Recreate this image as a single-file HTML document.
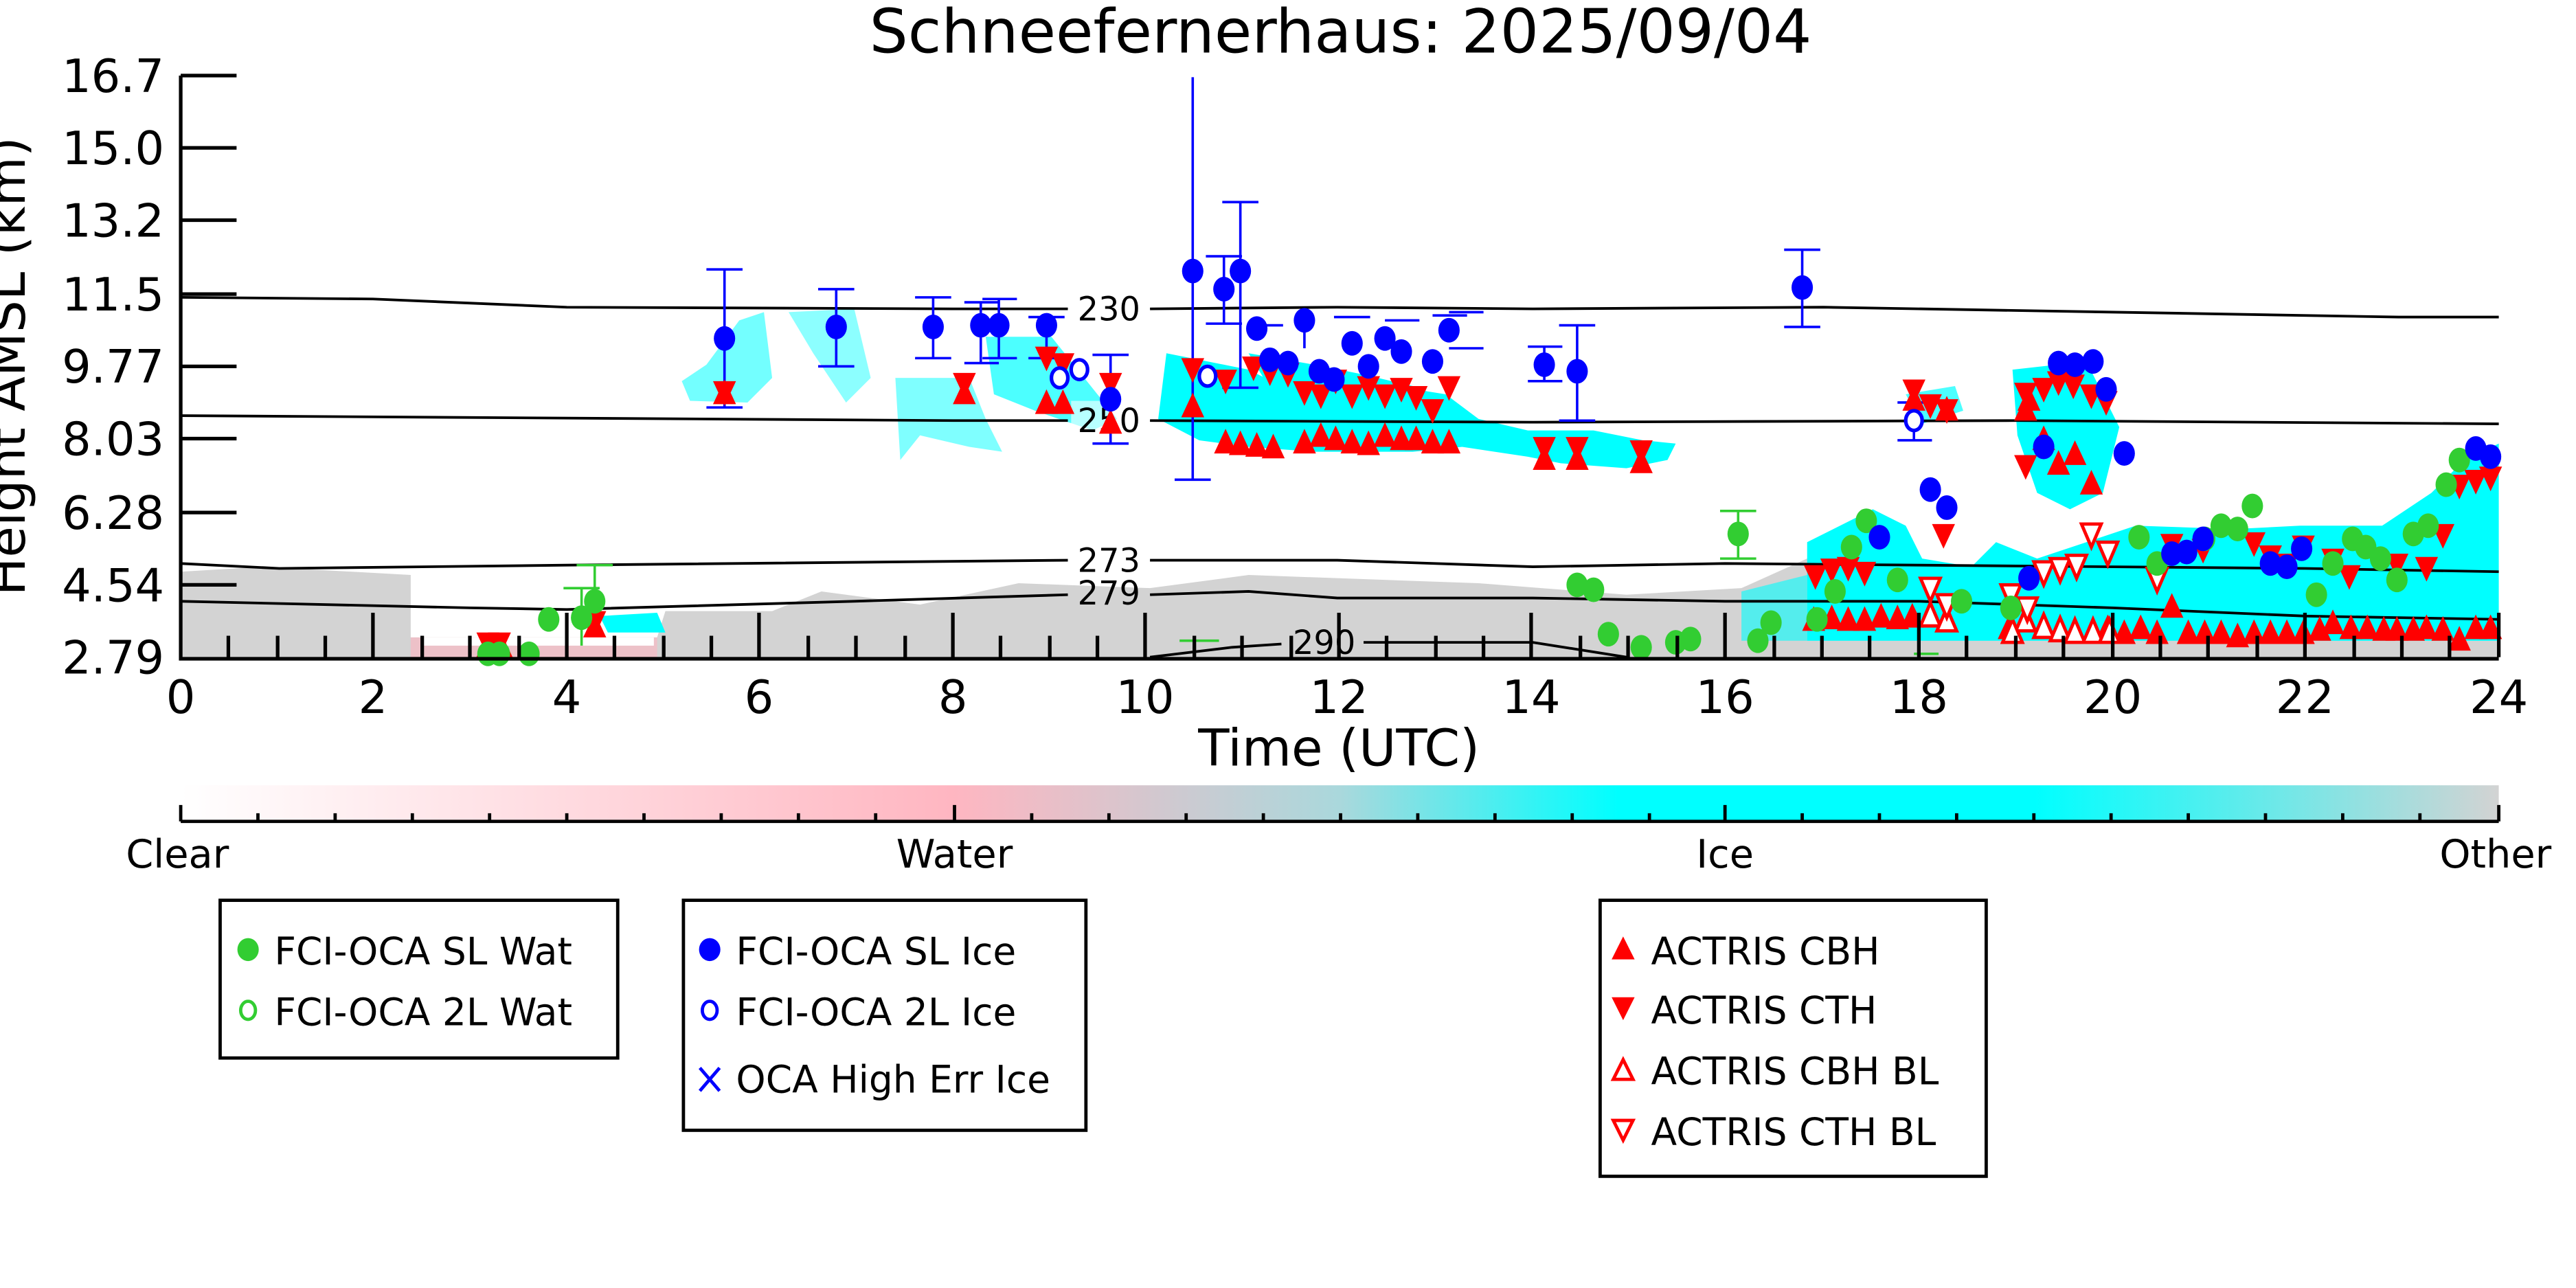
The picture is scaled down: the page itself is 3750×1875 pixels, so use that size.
<!DOCTYPE html>
<html><head><meta charset="utf-8"><style>
html,body{margin:0;padding:0;background:#fff;}
svg{display:block;}
text{font-family:"DejaVu Sans","Liberation Sans",sans-serif;}
</style></head><body>
<svg width="3750" height="1875" viewBox="0 0 1568 784" xmlns="http://www.w3.org/2000/svg">
<defs>
<linearGradient id="cb" x1="0" x2="1" y1="0" y2="0">
<stop offset="0" stop-color="#ffffff"/>
<stop offset="0.333" stop-color="#ffb6c1"/>
<stop offset="0.5" stop-color="#aad8dc"/>
<stop offset="0.62" stop-color="#00ffff"/>
<stop offset="0.8" stop-color="#00ffff"/>
<stop offset="1" stop-color="#d3d3d3"/>
</linearGradient>
<g id="bd"><ellipse cx="0" cy="0" rx="6.5" ry="7.5" fill="#0000ff"/></g>
<g id="bo"><ellipse cx="0" cy="0" rx="5" ry="6" fill="#fff" stroke="#0000ff" stroke-width="2.2"/></g>
<g id="gd"><ellipse cx="0" cy="0" rx="6.5" ry="7.5" fill="#32cd32"/></g>
<g id="tu"><path d="M0,-9 L7,6 L-7,6 Z" fill="#ff0000"/></g>
<g id="td"><path d="M0,9 L7,-6 L-7,-6 Z" fill="#ff0000"/></g>
<g id="ou"><path d="M0,-8 L6,6 L-6,6 Z" fill="#fff" stroke="#ff0000" stroke-width="2"/></g>
<g id="od"><path d="M0,8 L6,-6 L-6,-6 Z" fill="#fff" stroke="#ff0000" stroke-width="2"/></g>
</defs>

<text x="816" y="32" font-size="37" text-anchor="middle">Schneefernerhaus: 2025/09/04</text>

<!-- gray background -->
<path d="M110,348 L160,345 L250,350 L250,388 L400,388 L405,372 L470,372 L500,360 L560,368 L620,355 L700,358 L760,350 L900,355 L990,362 L1060,358 L1100,340 L1220,350 L1300,365 L1400,372 L1521,375 L1521,400 L110,400 Z" fill="#d3d3d3"/>
<path d="M250,388 L400,388 L400,400 L250,400 Z" fill="#ffb6c1" opacity="0.6"/>
<rect x="258" y="388" width="140" height="5" fill="#fff"/>

<!-- cyan -->
<g fill="#00ffff">
<path d="M415,232 L430,222 L450,195 L465,190 L470,230 L455,245 L420,244 Z" opacity="0.55"/>
<path d="M480,190 L520,188 L530,230 L515,245 L495,215 Z" opacity="0.45"/>
<path d="M545,230 L590,230 L600,255 L610,275 L590,272 L560,265 L548,280 Z" opacity="0.5"/>
<path d="M600,205 L640,205 L660,230 L680,255 L665,262 L630,250 L605,240 Z" opacity="0.7"/>
<path d="M710,215 L760,225 L780,235 L830,232 L880,240 L900,255 L930,262 L970,262 L1000,268 L1020,270 L1015,280 L990,285 L950,282 L930,278 L890,272 L860,275 L800,275 L760,272 L730,268 L705,255 Z"/>
<path d="M760,215 L800,222 L830,228 L860,235 L820,250 L780,248 Z"/>
<path d="M365,375 L400,373 L405,385 L370,385 Z"/>
<path d="M1160,240 L1190,235 L1195,250 L1170,258 Z" opacity="0.7"/>
<path d="M1225,225 L1270,220 L1290,260 L1280,300 L1260,310 L1240,300 L1228,265 Z"/>
<path d="M1100,330 L1140,310 L1160,320 L1170,340 L1200,345 L1215,330 L1240,340 L1300,320 L1360,322 L1400,320 L1450,320 L1480,300 L1500,280 L1521,270 L1521,390 L1100,390 Z"/>
<path d="M1060,360 L1100,350 L1100,390 L1060,390 Z" opacity="0.6"/>
</g>

<!-- isotherms -->
<g fill="none" stroke="#000" stroke-width="1.6">
<path d="M110,181 L227,182 L345,187 L580,188 L650,188"/><path d="M700,188 L814,187 L933,188 L1110,187 L1345,191 L1460,193 L1521,193"/>
<path d="M110,253 L580,256 L650,256"/><path d="M700,256 L933,257 L1227,256 L1521,258"/>
<path d="M110,343 L170,346 L345,344 L650,341"/><path d="M700,341 L814,341 L933,345 L1050,343 L1168,344 L1403,346 L1521,348"/>
<path d="M110,366 L286,370 L345,371 L520,366 L650,362"/><path d="M700,362 L760,360 L814,364 L933,364 L1050,366 L1168,366 L1286,370 L1403,375 L1521,377"/>
<path d="M700,400 L750,394 L780,392"/><path d="M830,391 L933,391 L990,400"/>
</g>
<g font-size="20" text-anchor="middle">
<rect x="652" y="244" width="44" height="22" fill="#fff" opacity="0.6"/>
<text x="675" y="195">230</text><text x="675" y="263">250</text>
<text x="675" y="348">273</text><text x="675" y="368">279</text><text x="806" y="398">290</text>
</g>

<!-- blue error bars -->
<g stroke="#0000ff" stroke-width="1.5" fill="none">
<path d="M441,164V248M430,164H452M430,248H452"/>
<path d="M509,176V223M498,176H520M498,223H520"/>
<path d="M568,181V218M557,181H579M557,218H579"/>
<path d="M597,184V221M587,184H608M587,221H608M608,182V218M598,182H619M598,218H619"/>
<path d="M637,193V218M626,193H648M626,218H648"/>
<path d="M676,216V270M665,216H687M665,270H687"/>
<path d="M726,47V292M715,292H737"/>
<path d="M745,156V197M734,156H756M734,197H756"/>
<path d="M755,123V236M744,123H766M744,236H766"/>
<path d="M940,211V232M930,211H951M930,232H951"/>
<path d="M960,198V256M949,198H971M949,256H971"/>
<path d="M1097,152V199M1086,152H1108M1086,199H1108"/>
<path d="M1165,245V268M1155,245H1176M1155,268H1176"/>
<path d="M794,188V212M843,195H864M872,192H893M882,190H903M882,212H903M812,193H834M760,198H781"/>
</g>
<g fill="none" stroke="#32cd32" stroke-width="1.5">
<path d="M1058,311V340M1047,311H1069M1047,340H1069"/>
<path d="M354,358V393M343,358H365M362,344V380M351,344H373"/>
<path d="M1165,398H1180M718,390H742"/>
</g>

<!-- markers -->
<g>
<use href="#td" x="441" y="238"/><use href="#td" x="587" y="233"/><use href="#td" x="637" y="217"/><use href="#td" x="647" y="221"/><use href="#td" x="676" y="233"/><use href="#td" x="726" y="224"/><use href="#td" x="746" y="231"/><use href="#td" x="763" y="223"/><use href="#td" x="773" y="226"/><use href="#td" x="784" y="227"/><use href="#td" x="794" y="238"/><use href="#td" x="804" y="240"/><use href="#td" x="813" y="231"/><use href="#td" x="823" y="240"/><use href="#td" x="833" y="235"/><use href="#td" x="843" y="240"/><use href="#td" x="853" y="236"/><use href="#td" x="862" y="241"/><use href="#td" x="872" y="249"/><use href="#td" x="882" y="235"/><use href="#td" x="940" y="272"/><use href="#td" x="960" y="272"/><use href="#td" x="999" y="274"/>
<use href="#td" x="297" y="391"/><use href="#td" x="304" y="391"/><use href="#td" x="362" y="378"/>
<use href="#td" x="1165" y="237"/><use href="#td" x="1175" y="246"/><use href="#td" x="1185" y="249"/><use href="#td" x="1233" y="239"/><use href="#td" x="1244" y="236"/><use href="#td" x="1253" y="232"/><use href="#td" x="1262" y="234"/><use href="#td" x="1273" y="240"/><use href="#td" x="1282" y="244"/><use href="#td" x="1233" y="283"/>
<use href="#td" x="1105" y="350"/><use href="#td" x="1115" y="346"/><use href="#td" x="1125" y="345"/><use href="#td" x="1135" y="348"/><use href="#td" x="1183" y="325"/><use href="#td" x="1322" y="331"/><use href="#td" x="1341" y="334"/><use href="#td" x="1372" y="330"/><use href="#td" x="1382" y="338"/><use href="#td" x="1392" y="343"/><use href="#td" x="1402" y="332"/><use href="#td" x="1420" y="340"/><use href="#td" x="1430" y="350"/><use href="#td" x="1459" y="343"/><use href="#td" x="1477" y="345"/><use href="#td" x="1487" y="325"/><use href="#td" x="1497" y="295"/><use href="#td" x="1507" y="292"/><use href="#td" x="1516" y="290"/>

<use href="#tu" x="441" y="240"/><use href="#tu" x="587" y="240"/><use href="#tu" x="637" y="246"/><use href="#tu" x="647" y="246"/><use href="#tu" x="676" y="258"/><use href="#tu" x="726" y="248"/><use href="#tu" x="746" y="270"/><use href="#tu" x="755" y="271"/><use href="#tu" x="765" y="272"/><use href="#tu" x="775" y="273"/><use href="#tu" x="794" y="270"/><use href="#tu" x="804" y="266"/><use href="#tu" x="813" y="268"/><use href="#tu" x="823" y="270"/><use href="#tu" x="833" y="271"/><use href="#tu" x="843" y="266"/><use href="#tu" x="853" y="268"/><use href="#tu" x="862" y="268"/><use href="#tu" x="872" y="270"/><use href="#tu" x="882" y="270"/><use href="#tu" x="940" y="280"/><use href="#tu" x="960" y="280"/><use href="#tu" x="999" y="282"/>
<use href="#tu" x="1165" y="244"/><use href="#tu" x="1185" y="250"/><use href="#tu" x="1233" y="250"/><use href="#tu" x="1244" y="268"/><use href="#tu" x="1253" y="283"/><use href="#tu" x="1263" y="277"/><use href="#tu" x="1273" y="295"/><use href="#tu" x="1235" y="244"/>
<use href="#tu" x="1104" y="378"/><use href="#tu" x="1115" y="377"/><use href="#tu" x="1125" y="378"/><use href="#tu" x="1135" y="378"/><use href="#tu" x="1145" y="376"/><use href="#tu" x="1155" y="377"/><use href="#tu" x="1164" y="376"/><use href="#tu" x="1223" y="383"/><use href="#tu" x="1303" y="383"/><use href="#tu" x="1322" y="370"/><use href="#tu" x="1342" y="386"/><use href="#tu" x="1352" y="386"/><use href="#tu" x="1362" y="388"/><use href="#tu" x="1372" y="386"/><use href="#tu" x="1382" y="386"/><use href="#tu" x="1392" y="386"/><use href="#tu" x="1402" y="386"/><use href="#tu" x="1412" y="384"/><use href="#tu" x="1420" y="380"/><use href="#tu" x="1431" y="383"/><use href="#tu" x="1441" y="383"/><use href="#tu" x="1451" y="384"/><use href="#tu" x="1459" y="384"/><use href="#tu" x="1469" y="384"/><use href="#tu" x="1477" y="383"/><use href="#tu" x="1487" y="384"/><use href="#tu" x="1497" y="390"/><use href="#tu" x="1507" y="383"/><use href="#tu" x="1516" y="383"/><use href="#tu" x="1283" y="383"/><use href="#tu" x="1293" y="386"/><use href="#tu" x="1313" y="386"/><use href="#tu" x="1332" y="386"/>
<use href="#tu" x="297" y="394"/><use href="#tu" x="305" y="394"/><use href="#tu" x="362" y="382"/>

<use href="#ou" x="1175" y="375"/><use href="#ou" x="1185" y="378"/><use href="#ou" x="1233" y="378"/><use href="#ou" x="1244" y="382"/><use href="#ou" x="1254" y="384"/><use href="#ou" x="1263" y="385"/><use href="#ou" x="1274" y="385"/><use href="#ou" x="1284" y="385"/><use href="#ou" x="1225" y="385"/>
<use href="#od" x="1175" y="358"/><use href="#od" x="1185" y="368"/><use href="#od" x="1273" y="325"/><use href="#od" x="1283" y="336"/><use href="#od" x="1244" y="348"/><use href="#od" x="1254" y="346"/><use href="#od" x="1264" y="344"/><use href="#od" x="1234" y="370"/><use href="#od" x="1224" y="362"/><use href="#od" x="1313" y="352"/>

<use href="#gd" x="297" y="398"/><use href="#gd" x="304" y="398"/><use href="#gd" x="322" y="398"/><use href="#gd" x="334" y="377"/><use href="#gd" x="354" y="376"/><use href="#gd" x="362" y="366"/>
<use href="#gd" x="960" y="356"/><use href="#gd" x="970" y="359"/><use href="#gd" x="979" y="386"/><use href="#gd" x="999" y="394"/><use href="#gd" x="1020" y="391"/><use href="#gd" x="1029" y="389"/><use href="#gd" x="1058" y="325"/><use href="#gd" x="1070" y="390"/><use href="#gd" x="1078" y="379"/><use href="#gd" x="1106" y="377"/><use href="#gd" x="1117" y="360"/><use href="#gd" x="1127" y="333"/><use href="#gd" x="1136" y="317"/><use href="#gd" x="1155" y="353"/><use href="#gd" x="1194" y="366"/><use href="#gd" x="1224" y="370"/><use href="#gd" x="1302" y="327"/><use href="#gd" x="1313" y="343"/><use href="#gd" x="1342" y="328"/><use href="#gd" x="1352" y="320"/><use href="#gd" x="1362" y="322"/><use href="#gd" x="1371" y="308"/><use href="#gd" x="1410" y="362"/><use href="#gd" x="1420" y="343"/><use href="#gd" x="1432" y="328"/><use href="#gd" x="1440" y="333"/><use href="#gd" x="1449" y="340"/><use href="#gd" x="1459" y="353"/><use href="#gd" x="1469" y="325"/><use href="#gd" x="1478" y="320"/><use href="#gd" x="1489" y="295"/><use href="#gd" x="1497" y="280"/>

<use href="#bd" x="441" y="206"/><use href="#bd" x="509" y="199"/><use href="#bd" x="568" y="199"/><use href="#bd" x="597" y="198"/><use href="#bd" x="608" y="198"/><use href="#bd" x="637" y="198"/><use href="#bd" x="676" y="243"/><use href="#bd" x="726" y="165"/><use href="#bd" x="745" y="176"/><use href="#bd" x="755" y="165"/><use href="#bd" x="765" y="200"/><use href="#bd" x="773" y="219"/><use href="#bd" x="784" y="221"/><use href="#bd" x="794" y="195"/><use href="#bd" x="803" y="226"/><use href="#bd" x="812" y="231"/><use href="#bd" x="823" y="209"/><use href="#bd" x="833" y="223"/><use href="#bd" x="843" y="206"/><use href="#bd" x="853" y="214"/><use href="#bd" x="872" y="220"/><use href="#bd" x="882" y="201"/><use href="#bd" x="940" y="222"/><use href="#bd" x="960" y="226"/><use href="#bd" x="1097" y="175"/>
<use href="#bd" x="1144" y="327"/><use href="#bd" x="1175" y="298"/><use href="#bd" x="1185" y="309"/><use href="#bd" x="1235" y="352"/><use href="#bd" x="1244" y="272"/><use href="#bd" x="1253" y="221"/><use href="#bd" x="1263" y="222"/><use href="#bd" x="1274" y="220"/><use href="#bd" x="1282" y="237"/><use href="#bd" x="1293" y="276"/><use href="#bd" x="1322" y="337"/><use href="#bd" x="1331" y="336"/><use href="#bd" x="1341" y="328"/><use href="#bd" x="1382" y="343"/><use href="#bd" x="1392" y="345"/><use href="#bd" x="1401" y="334"/><use href="#bd" x="1507" y="273"/><use href="#bd" x="1516" y="278"/>
<use href="#bo" x="645" y="230"/><use href="#bo" x="657" y="225"/><use href="#bo" x="735" y="229"/><use href="#bo" x="1165" y="256"/>
</g>

<!-- axes -->
<g stroke="#000" stroke-width="2.2" fill="none">
<path d="M110,46 V401 H1521"/>
<path d="M110,46H144M110,90H144M110,134H144M110,179H144M110,223H144M110,267H144M110,312H144M110,356H144"/>
<path d="M227,400V373M345,400V373M462,400V373M580,400V373M697,400V373M815,400V373M932,400V373M1050,400V373M1168,400V373M1286,400V373M1403,400V373M1521,400V373"/>
<path d="M139,400V387M169,400V387M198,400V387M257,400V387M286,400V387M316,400V387M374,400V387M404,400V387M433,400V387M492,400V387M521,400V387M551,400V387M609,400V387M639,400V387M668,400V387M727,400V387M756,400V387M786,400V387M844,400V387M874,400V387M903,400V387M962,400V387M991,400V387M1021,400V387M1080,400V387M1109,400V387M1138,400V387M1197,400V387M1227,400V387M1256,400V387M1315,400V387M1344,400V387M1374,400V387M1433,400V387M1462,400V387M1491,400V387"/>
</g>
<g font-size="28" text-anchor="end">
<text x="100" y="56">16.7</text><text x="100" y="100">15.0</text><text x="100" y="144">13.2</text><text x="100" y="189">11.5</text><text x="100" y="233">9.77</text><text x="100" y="277">8.03</text><text x="100" y="322">6.28</text><text x="100" y="366">4.54</text><text x="100" y="410">2.79</text>
</g>
<g font-size="28" text-anchor="middle">
<text x="110" y="434">0</text><text x="227" y="434">2</text><text x="345" y="434">4</text><text x="462" y="434">6</text><text x="580" y="434">8</text><text x="697" y="434">10</text><text x="815" y="434">12</text><text x="932" y="434">14</text><text x="1050" y="434">16</text><text x="1168" y="434">18</text><text x="1286" y="434">20</text><text x="1403" y="434">22</text><text x="1521" y="434">24</text>
<text x="815" y="466" font-size="31">Time (UTC)</text>
</g>
<text transform="translate(15,223) rotate(-90)" font-size="31" text-anchor="middle">Height AMSL (km)</text>

<!-- colorbar -->
<rect x="110" y="478" width="1411" height="22" fill="url(#cb)"/>
<g stroke="#000" stroke-width="2" fill="none">
<path d="M110,500H1521M110,500V490M581,500V490M1050,500V490M1521,500V490"/>
<path d="M157,500V495M204,500V495M251,500V495M298,500V495M345,500V495M392,500V495M439,500V495M486,500V495M533,500V495M628,500V495M675,500V495M722,500V495M769,500V495M816,500V495M863,500V495M910,500V495M957,500V495M1004,500V495M1097,500V495M1144,500V495M1191,500V495M1238,500V495M1285,500V495M1332,500V495M1379,500V495M1426,500V495M1473,500V495"/>
</g>
<g font-size="24" text-anchor="middle">
<text x="108" y="528">Clear</text><text x="581" y="528">Water</text><text x="1050" y="528">Ice</text><text x="1519" y="528">Other</text>
</g>

<!-- legends -->
<g fill="none" stroke="#000" stroke-width="2">
<rect x="134" y="548" width="242" height="96"/>
<rect x="416" y="548" width="245" height="140"/>
<rect x="974" y="548" width="235" height="168"/>
</g>
<g font-size="23">
<ellipse cx="151" cy="578" rx="6.5" ry="7" fill="#32cd32"/><text x="167" y="587">FCI-OCA SL Wat</text>
<ellipse cx="151" cy="615" rx="4.5" ry="5.5" fill="none" stroke="#32cd32" stroke-width="2"/><text x="167" y="624">FCI-OCA 2L Wat</text>
<ellipse cx="432" cy="578" rx="6.5" ry="7" fill="#0000ff"/><text x="448" y="587">FCI-OCA SL Ice</text>
<ellipse cx="432" cy="615" rx="4.5" ry="5.5" fill="none" stroke="#0000ff" stroke-width="2"/><text x="448" y="624">FCI-OCA 2L Ice</text>
<path d="M426,650 L438,664 M438,650 L426,664" stroke="#0000ff" stroke-width="2"/><text x="448" y="665">OCA High Err Ice</text>
<path d="M988,570 L995,584 L981,584 Z" fill="#ff0000"/><text x="1005" y="587">ACTRIS CBH</text>
<path d="M988,621 L995,607 L981,607 Z" fill="#ff0000"/><text x="1005" y="623">ACTRIS CTH</text>
<path d="M988,645 L994,657 L982,657 Z" fill="none" stroke="#ff0000" stroke-width="2"/><text x="1005" y="660">ACTRIS CBH BL</text>
<path d="M988,694 L994,682 L982,682 Z" fill="none" stroke="#ff0000" stroke-width="2"/><text x="1005" y="697">ACTRIS CTH BL</text>
</g>
</svg>
</body></html>
